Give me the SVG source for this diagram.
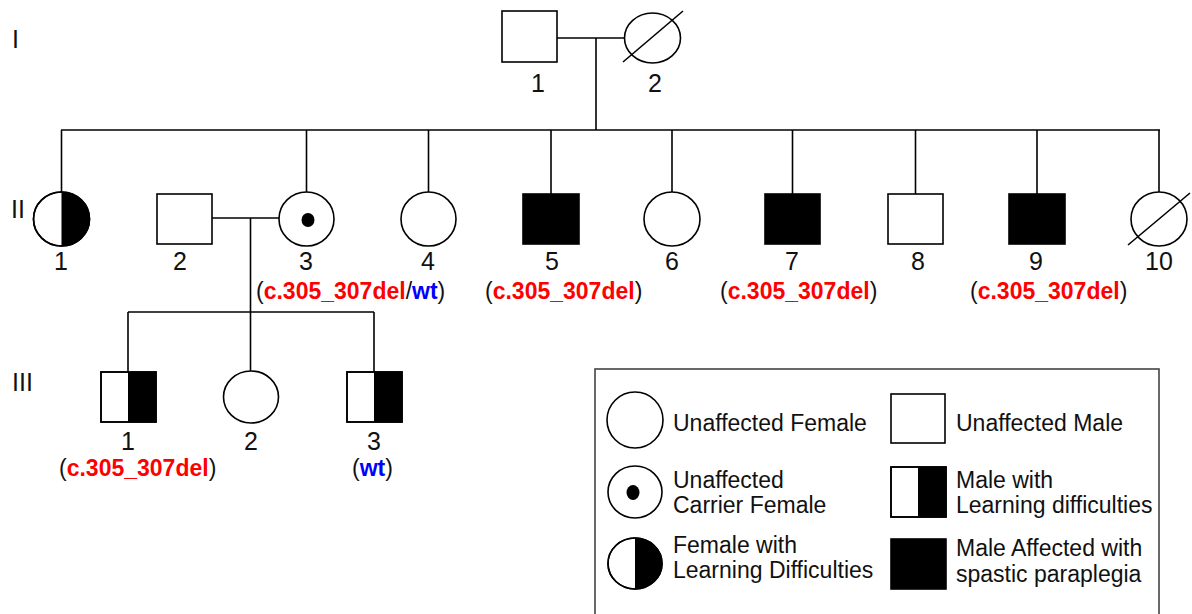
<svg xmlns="http://www.w3.org/2000/svg" width="1192" height="614" viewBox="0 0 1192 614">
<style>
.s{fill:#fff;stroke:#000;stroke-width:1.6}
.f{fill:#000;stroke:#000;stroke-width:1.6}
.k{fill:#000;stroke:none}
.ln{fill:none;stroke:#000;stroke-width:1.6}
.num{font-family:"Liberation Sans",Arial,sans-serif;font-size:25px;fill:#111;text-anchor:middle}
.gen{font-family:"Liberation Sans",Arial,sans-serif;font-size:25px;fill:#111}
.gt{font-family:"Liberation Sans",Arial,sans-serif;font-size:23px;fill:#111}
.r{fill:#ff0000;font-weight:bold}
.b{fill:#0000ff;font-weight:bold}
.lg{font-family:"Liberation Sans",Arial,sans-serif;font-size:23px;fill:#111}
</style>
<rect width="1192" height="614" fill="#fff"/>
<g id="connectors">
<line class="ln" x1="557" y1="38" x2="624" y2="38"/>
<line class="ln" x1="596" y1="38" x2="596" y2="130"/>
<line class="ln" x1="61" y1="130" x2="1160" y2="130"/>
<line class="ln" x1="61.5" y1="130" x2="61.5" y2="192"/>
<line class="ln" x1="306.5" y1="130" x2="306.5" y2="192"/>
<line class="ln" x1="428.5" y1="130" x2="428.5" y2="192"/>
<line class="ln" x1="551" y1="130" x2="551" y2="194"/>
<line class="ln" x1="672" y1="130" x2="672" y2="192"/>
<line class="ln" x1="792.5" y1="130" x2="792.5" y2="194"/>
<line class="ln" x1="915.5" y1="130" x2="915.5" y2="194"/>
<line class="ln" x1="1037" y1="130" x2="1037" y2="194"/>
<line class="ln" x1="1159" y1="130" x2="1159" y2="192"/>
<line class="ln" x1="212" y1="218" x2="279" y2="218"/>
<line class="ln" x1="250.5" y1="218" x2="250.5" y2="371"/>
<line class="ln" x1="128" y1="312" x2="374" y2="312"/>
<line class="ln" x1="128" y1="312" x2="128" y2="372"/>
<line class="ln" x1="374" y1="312" x2="374" y2="372"/>
</g>
<g id="gen-labels">
<text class="gen" x="12" y="48">I</text>
<text class="gen" x="11" y="218">II</text>
<text class="gen" x="12" y="391">III</text>
</g>
<g id="I-1"><rect class="s" x="502" y="11" width="55" height="51"/><text class="num" x="538" y="92">1</text></g>
<g id="I-2"><ellipse class="s" cx="652.5" cy="38" rx="28" ry="25"/><line class="ln" x1="623" y1="62" x2="683" y2="11"/><text class="num" x="655" y="92">2</text></g>
<g id="II-1"><ellipse class="s" cx="61.5" cy="219" rx="28" ry="27"/><path class="k" d="M61.5,192 A28,27 0 0 1 61.5,246 Z"/><ellipse class="ln" cx="61.5" cy="219" rx="28" ry="27"/><text class="num" x="61" y="270">1</text></g>
<g id="II-2"><rect class="s" x="157" y="194" width="55" height="50"/><text class="num" x="180" y="270">2</text></g>
<g id="II-3"><ellipse class="s" cx="306.5" cy="219" rx="27.5" ry="27"/><ellipse class="k" cx="308" cy="220" rx="6.5" ry="7"/><text class="num" x="306" y="270">3</text>
<text class="gt" x="256" y="299">(<tspan class="r">c.305_307del</tspan>/<tspan class="b">wt</tspan>)</text></g>
<g id="II-4"><ellipse class="s" cx="428.5" cy="219" rx="27.5" ry="27"/><text class="num" x="428" y="270">4</text></g>
<g id="II-5"><rect class="f" x="523" y="194" width="56" height="50"/><text class="num" x="552" y="270">5</text>
<text class="gt" x="485" y="299">(<tspan class="r">c.305_307del</tspan>)</text></g>
<g id="II-6"><ellipse class="s" cx="672" cy="219" rx="28" ry="27"/><text class="num" x="672" y="270">6</text></g>
<g id="II-7"><rect class="f" x="765" y="194" width="55" height="50"/><text class="num" x="792" y="270">7</text>
<text class="gt" x="720" y="299">(<tspan class="r">c.305_307del</tspan>)</text></g>
<g id="II-8"><rect class="s" x="888" y="194" width="55" height="50"/><text class="num" x="918" y="270">8</text></g>
<g id="II-9"><rect class="f" x="1009" y="194" width="56" height="50"/><text class="num" x="1036" y="270">9</text>
<text class="gt" x="970" y="299">(<tspan class="r">c.305_307del</tspan>)</text></g>
<g id="II-10"><ellipse class="s" cx="1159" cy="219" rx="28" ry="27"/><line class="ln" x1="1128" y1="245" x2="1190" y2="193"/><text class="num" x="1159" y="270">10</text></g>
<g id="III-1"><rect class="s" x="101" y="372" width="55" height="50"/><rect class="k" x="128" y="372" width="28" height="50"/><rect class="ln" x="101" y="372" width="55" height="50"/><text class="num" x="128" y="450">1</text>
<text class="gt" x="59" y="476">(<tspan class="r">c.305_307del</tspan>)</text></g>
<g id="III-2"><ellipse class="s" cx="251" cy="397" rx="27.5" ry="26"/><text class="num" x="251" y="450">2</text></g>
<g id="III-3"><rect class="s" x="347" y="372" width="55" height="50"/><rect class="k" x="374" y="372" width="28" height="50"/><rect class="ln" x="347" y="372" width="55" height="50"/><text class="num" x="374" y="450">3</text>
<text class="gt" x="352" y="476">(<tspan class="b">wt</tspan>)</text></g>
<g id="legend">
<rect x="595" y="369" width="564" height="260" fill="none" stroke="#444" stroke-width="1.6"/>
<ellipse class="s" cx="635" cy="420" rx="28" ry="28"/>
<text class="lg" x="673" y="431">Unaffected Female</text>
<rect class="s" x="891" y="394" width="54" height="49"/>
<text class="lg" x="956" y="431">Unaffected Male</text>
<ellipse class="s" cx="635" cy="492" rx="27" ry="26"/>
<ellipse class="k" cx="633" cy="492.5" rx="6.5" ry="7.5"/>
<text class="lg" x="673" y="488">Unaffected</text>
<text class="lg" x="673" y="513">Carrier Female</text>
<rect class="s" x="891" y="467" width="55" height="50"/>
<rect class="k" x="918" y="467" width="28" height="50"/>
<rect class="ln" x="891" y="467" width="55" height="50"/>
<text class="lg" x="956" y="488">Male with</text>
<text class="lg" x="956" y="513">Learning difficulties</text>
<ellipse class="s" cx="635" cy="563.5" rx="27" ry="25.5"/>
<path class="k" d="M635,538 A27,25.5 0 0 1 635,589 Z"/>
<ellipse class="ln" cx="635" cy="563.5" rx="27" ry="25.5"/>
<text class="lg" x="673" y="553">Female with</text>
<text class="lg" x="673" y="578">Learning Difficulties</text>
<rect class="f" x="891" y="539" width="55" height="50"/>
<text class="lg" x="956" y="556">Male Affected with</text>
<text class="lg" x="956" y="582">spastic paraplegia</text>
</g>
</svg>
